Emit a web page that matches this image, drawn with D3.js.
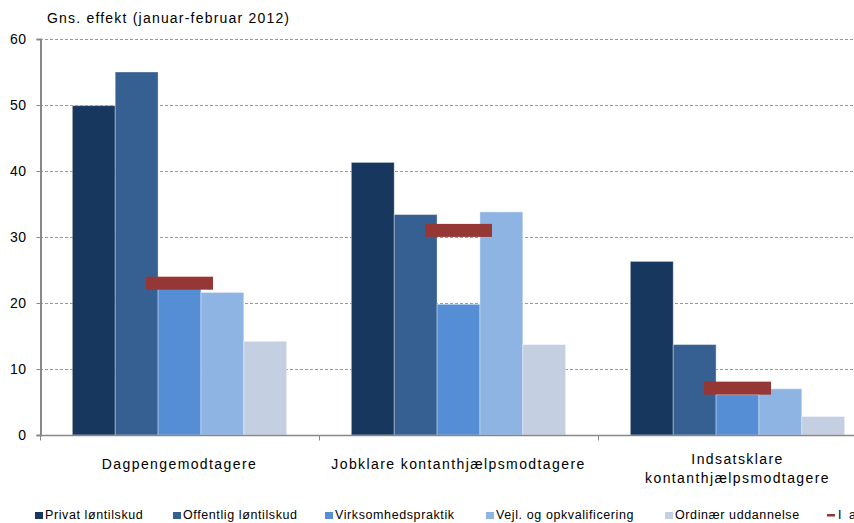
<!DOCTYPE html>
<html>
<head>
<meta charset="utf-8">
<script src="https://cdn.jsdelivr.net/npm/d3@7"></script>
<style>
  body { margin: 0; background: #fff; }
  text { font-family: "Liberation Sans", Arial, sans-serif; fill: #000; }
</style>
</head>
<body>
<div id="chart"></div>
<script>
// chart data
const categories = ['Dagpengemodtagere', 'Jobklare kontanthjælpsmodtagere', 'Indsatsklare kontanthjælpsmodtagere'];
const categoryLines = [['Dagpengemodtagere'], ['Jobklare kontanthjælpsmodtagere'], ['Indsatsklare', 'kontanthjælpsmodtagere']];
const seriesNames = ['Privat løntilskud', 'Offentlig løntilskud', 'Virksomhedspraktik', 'Vejl. og opkvalificering', 'Ordinær uddannelse'];
const seriesValues = [
    [49.9, 41.3, 26.3],   // Privat løntilskud
    [55.0, 33.4, 13.7],   // Offentlig løntilskud
    [22.2, 19.8, 6.1],    // Virksomhedspraktik
    [21.6, 33.8, 7.0],    // Vejl. og opkvalificering
    [14.2, 13.7, 2.8]     // Ordinær uddannelse
];
const totalName = 'I alt';
const totalValues = [23.0, 31.0, 7.1];
const yTicks = [0, 10, 20, 30, 40, 50, 60];
const colors = ['#17375e', '#376092', '#558ed5', '#8eb4e3', '#c5cfe2'];
const totalColor = '#953735';

const width = 854, height = 523;
const margin = { top: 39, left: 40, bottom: 88 };
const fontFamily = '"Liberation Sans", Arial, sans-serif';

const svg = d3.select('#chart').append('svg')
    .attr('width', width)
    .attr('height', height);

// the category band runs past the right edge, as in the original
const x = d3.scaleBand()
    .domain(categories)
    .range([margin.left, margin.left + 837])
    .paddingInner(0)
    .paddingOuter(0);

const inner = d3.scaleBand()
    .domain(d3.range(seriesNames.length))
    .range([0, x.bandwidth()])
    .paddingOuter(0.755)
    .paddingInner(0);

const y = d3.scaleLinear()
    .domain([0, 60])
    .range([height - margin.bottom, margin.top]);

// gridlines
svg.append('g')
    .selectAll('line')
    .data(yTicks.filter(d => d > 0))
    .join('line')
    .attr('x1', margin.left)
    .attr('x2', width)
    .attr('y1', d => y(d) + 0.5)
    .attr('y2', d => y(d) + 0.5)
    .attr('stroke', '#999')
    .attr('stroke-dasharray', '3,2');

// bars
const groups = svg.append('g')
    .selectAll('g')
    .data(categories)
    .join('g')
    .attr('transform', d => `translate(${x(d)},0)`);

groups.selectAll('rect')
    .data((d, i) => seriesValues.map((s, j) => ({ s: j, v: s[i] })))
    .join('rect')
    .attr('x', d => inner(d.s))
    .attr('width', inner.bandwidth())
    .attr('y', d => y(d.v))
    .attr('height', d => y(0) - y(d.v))
    .attr('fill', d => colors[d.s])
    .attr('stroke', '#ffffff')
    .attr('stroke-opacity', 0.35)
    .attr('stroke-width', 1);

// total markers
const markW = 67, markH = 13;
svg.append('g')
    .selectAll('rect')
    .data(categories)
    .join('rect')
    .attr('x', d => x(d) + x.bandwidth() / 2 - markW / 2)
    .attr('width', markW)
    .attr('y', (d, i) => y(totalValues[i]) - markH / 2)
    .attr('height', markH)
    .attr('fill', totalColor);

// y axis
const yAxis = svg.append('g')
    .attr('transform', `translate(${margin.left + 0.5},0)`)
    .call(d3.axisLeft(y).tickValues(yTicks).tickSize(4).tickPadding(10));
yAxis.select('.domain').attr('stroke', '#888').attr('stroke-width', 2);
yAxis.selectAll('.tick line').attr('stroke', '#888');
yAxis.selectAll('.tick text')
    .style('font-size', '14px')
    .style('letter-spacing', '0.5px')
    .style('font-family', fontFamily);

// x axis
const xAxisG = svg.append('g')
    .attr('transform', `translate(0,${y(0) + 0.5})`);
xAxisG.append('line')
    .attr('x1', margin.left)
    .attr('x2', width)
    .attr('stroke', '#888')
    .attr('stroke-width', 1.5);
xAxisG.selectAll('line.tick')
    .data(categories)
    .join('line')
    .attr('class', 'tick')
    .attr('x1', d => x(d) + 0.5)
    .attr('x2', d => x(d) + 0.5)
    .attr('y1', 0)
    .attr('y2', 5)
    .attr('stroke', '#888');

xAxisG.selectAll('text.cat')
    .data(categories)
    .join('text')
    .attr('class', 'cat')
    .attr('text-anchor', 'middle')
    .style('font-size', '14px')
    .style('letter-spacing', '1.4px')
    .each(function (d, i) {
        const lines = categoryLines[i];
        const t = d3.select(this);
        const y0 = lines.length > 1 ? 28 : 33;
        lines.forEach((l, k) => {
            t.append('tspan')
                .attr('x', x(d) + x.bandwidth() / 2)
                .attr('y', y0 + k * 19)
                .text(l);
        });
    });

// y title
svg.append('text')
    .attr('x', 47)
    .attr('y', 23)
    .style('font-size', '14px')
    .style('letter-spacing', '1.2px')
    .text('Gns. effekt (januar-februar 2012)');

// legend
const legendX = [35, 173, 325, 486, 665];
const legendY = 519;
const legend = svg.append('g');
seriesNames.forEach((name, i) => {
    legend.append('rect')
        .attr('x', legendX[i])
        .attr('y', legendY - 7)
        .attr('width', 8)
        .attr('height', 7)
        .attr('fill', colors[i]);
    legend.append('text')
        .attr('x', legendX[i] + 10)
        .attr('y', legendY)
        .style('font-size', '12.5px')
        .style('letter-spacing', '0.6px')
        .text(name);
});
legend.append('rect')
    .attr('x', 827)
    .attr('y', legendY - 5)
    .attr('width', 8)
    .attr('height', 2.5)
    .attr('fill', totalColor);
legend.append('text')
    .attr('x', 838)
    .attr('y', legendY)
    .style('font-size', '12.5px')
    .style('letter-spacing', '2px')
    .text(totalName);
</script>
</body>
</html>
